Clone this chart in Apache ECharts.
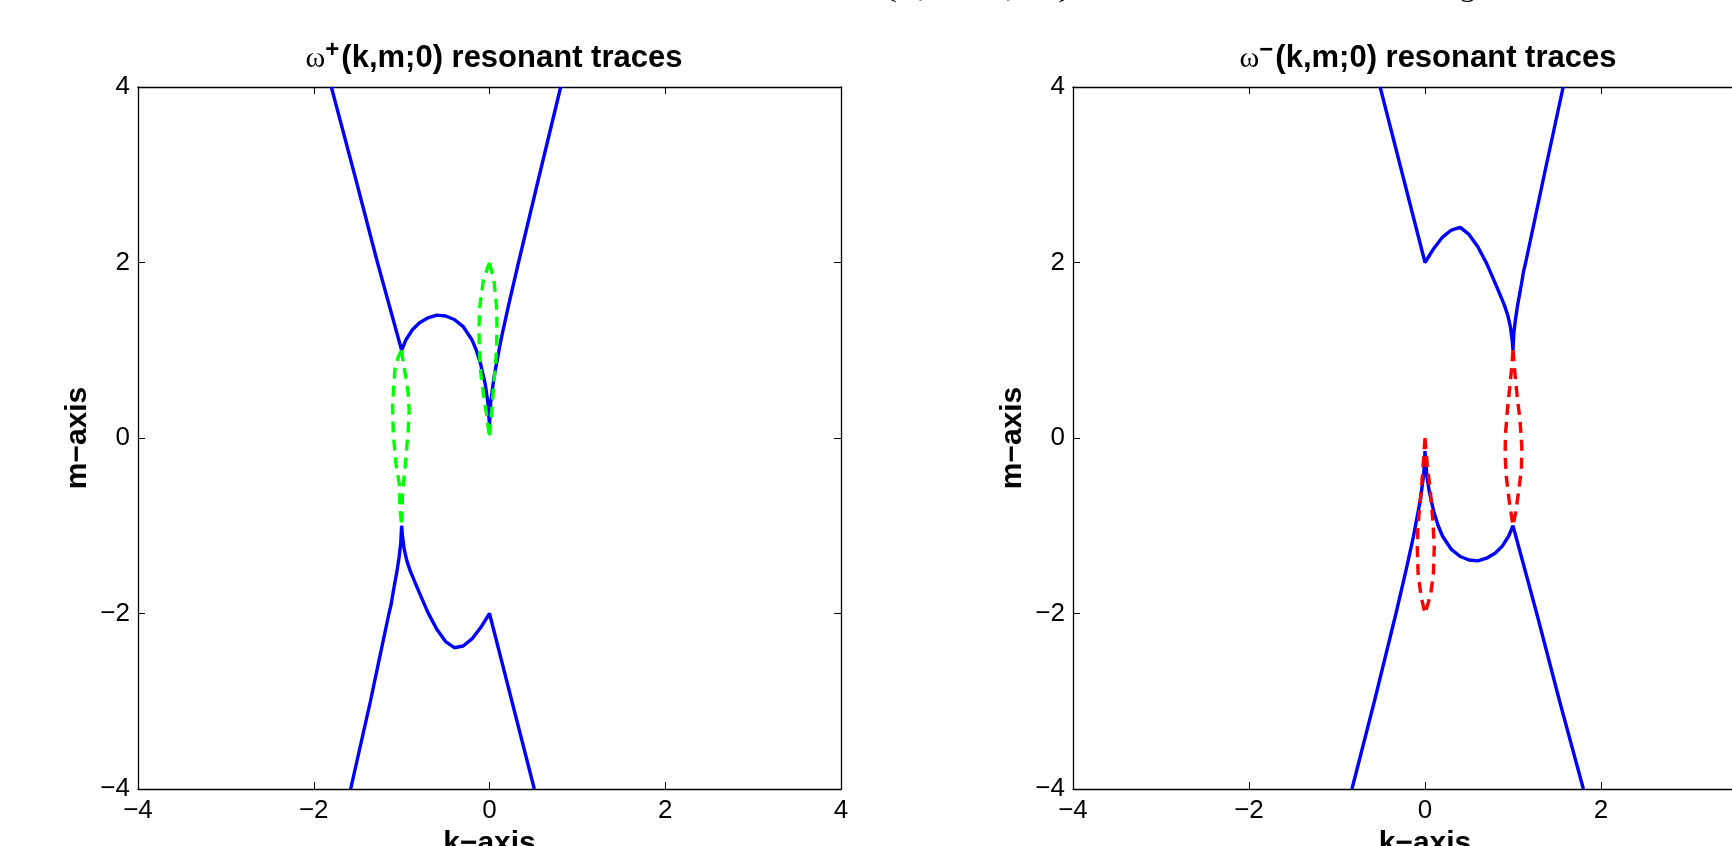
<!DOCTYPE html>
<html>
<head>
<meta charset="utf-8">
<script src="https://cdn.jsdelivr.net/npm/echarts@6/dist/echarts.min.js"></script>
<style>
html,body{margin:0;padding:0;background:#fff;}
#chart{width:1732px;height:846px;}
</style>
</head>
<body>
<div id="chart"></div>
<script>
// ---------- data ----------
const tickValues = [-4, -2, 0, 2, 4];
const panelTitles = ['(k,m;0) resonant traces', '(k,m;0) resonant traces'];
const panelSigns = ['+', '\u2212'];
const xName = 'k\u2212axis';
const yName = 'm\u2212axis';

// omega+ panel : blue traces
const plusUpperK = [-1.80, -1.535, -1.275, -1.00, -0.95, -0.88, -0.80, -0.70, -0.60, -0.50, -0.40, -0.30, -0.20, -0.15, -0.10, -0.05, -0.02, 0.00, 0.013, 0.052, 0.131, 0.214, 0.33, 0.569, 0.81];
const plusUpperM = [4.00, 3.00, 2.00, 1.00, 1.12, 1.23, 1.31, 1.37, 1.40, 1.39, 1.35, 1.27, 1.12, 1.00, 0.84, 0.62, 0.42, 0.15, 0.40, 0.70, 1.12, 1.50, 2.00, 3.00, 4.00];
const plusLowerK = [-1.58, -1.355, -1.25, -1.144, -1.12, -1.095, -1.05, -1.028, -1.01, -1.00, -0.99, -0.97, -0.94, -0.90, -0.85, -0.80, -0.70, -0.60, -0.50, -0.40, -0.30, -0.20, -0.10, 0.00, 0.255, 0.51];
const plusLowerM = [-4.00, -3.00, -2.50, -2.00, -1.90, -1.75, -1.50, -1.35, -1.20, -1.00, -1.12, -1.27, -1.40, -1.52, -1.64, -1.76, -1.99, -2.18, -2.32, -2.39, -2.37, -2.29, -2.16, -2.00, -3.00, -4.00];
// omega+ panel : green dashed loops
const plusLoopAK = [-1.00, -0.98, -0.945, -0.925, -0.914, -0.925, -0.96, -0.99, -1.00, -1.02, -1.027, -1.065, -1.095, -1.103, -1.09, -1.077, -1.04, -1.00];
const plusLoopAM = [1.00, 0.85, 0.65, 0.50, 0.30, 0.09, -0.33, -0.63, -1.00, -0.79, -0.52, -0.29, 0.05, 0.36, 0.60, 0.775, 0.92, 1.00];
const plusLoopBK = [0.00, -0.07, -0.11, -0.12, -0.115, -0.10, -0.07, -0.03, 0.00, 0.02, 0.04, 0.06, 0.08, 0.085, 0.08, 0.05, 0.00];
const plusLoopBM = [2.00, 1.80, 1.50, 1.25, 1.00, 0.75, 0.50, 0.25, 0.00, 0.25, 0.50, 0.75, 1.00, 1.25, 1.50, 1.80, 2.00];

// omega- panel : blue traces
const minusUpperK = [-0.51, -0.255, 0.00, 0.10, 0.20, 0.30, 0.40, 0.50, 0.60, 0.70, 0.80, 0.85, 0.90, 0.94, 0.97, 0.99, 1.00, 1.01, 1.028, 1.05, 1.095, 1.12, 1.144, 1.25, 1.355, 1.57];
const minusUpperM = [4.00, 3.00, 2.00, 2.16, 2.29, 2.37, 2.40, 2.32, 2.18, 1.99, 1.76, 1.64, 1.52, 1.40, 1.27, 1.12, 1.00, 1.20, 1.35, 1.50, 1.75, 1.90, 2.00, 2.50, 3.00, 4.00];
const minusLowerK = [-0.83, -0.575, -0.33, -0.214, -0.131, -0.052, -0.013, 0.00, 0.02, 0.05, 0.10, 0.15, 0.20, 0.30, 0.40, 0.50, 0.60, 0.70, 0.80, 0.88, 0.95, 1.00, 1.27, 1.53, 1.80];
const minusLowerM = [-4.00, -3.00, -2.00, -1.50, -1.12, -0.70, -0.40, -0.15, -0.42, -0.62, -0.84, -1.00, -1.12, -1.27, -1.35, -1.39, -1.40, -1.37, -1.31, -1.23, -1.12, -1.00, -2.00, -3.00, -4.00];
// omega- panel : red dashed loops
const minusLoopAK = [0.00, 0.025, 0.06, 0.09, 0.105, 0.095, 0.065, 0.00, -0.045, -0.078, -0.088, -0.08, -0.057, -0.035, -0.017, 0.00];
const minusLoopAM = [0.00, -0.30, -0.60, -0.95, -1.25, -1.55, -1.78, -2.00, -1.80, -1.55, -1.25, -1.00, -0.75, -0.50, -0.25, 0.00];
const minusLoopBK = [1.00, 0.985, 0.96, 0.935, 0.915, 0.91, 0.925, 0.955, 0.98, 1.00, 1.03, 1.065, 1.095, 1.10, 1.08, 1.05, 1.025, 1.00];
const minusLoopBM = [1.00, 0.80, 0.55, 0.30, 0.05, -0.20, -0.45, -0.70, -0.87, -1.00, -0.85, -0.60, -0.36, -0.10, 0.20, 0.45, 0.70, 1.00];

// ---------- build ----------
const zip = (ks, ms) => ks.map((k, i) => [k, ms[i]]);
const FONT = '"Liberation Sans", Arial, Helvetica, sans-serif';
const fmt = v => (v < 0 ? '\u2212' + Math.abs(v) : String(v));

const grids = [
  {left: 138, top: 87, width: 703, height: 702, outerBoundsMode: 'none', containLabel: false},
  {left: 1073, top: 87, width: 704, height: 702, outerBoundsMode: 'none', containLabel: false}
];

const axisLine = {onZero: false, lineStyle: {color: '#000', width: 1.3}};
const axisTick = {inside: true, length: 7, lineStyle: {color: '#000', width: 1}};
const xAxis = [], yAxis = [];
grids.forEach((g, gi) => {
  const base = {gridIndex: gi, type: 'value', min: tickValues[0], max: tickValues[tickValues.length - 1], interval: 2,
    splitLine: {show: false}, axisLine, axisTick};
  xAxis.push(Object.assign({}, base, {
    position: 'bottom',
    axisLabel: {formatter: fmt, fontSize: 26, color: '#000', fontFamily: FONT, margin: 9},
    name: xName, nameLocation: 'middle', nameGap: 40,
    nameTextStyle: {fontSize: 30, fontWeight: 'bold', color: '#000', fontFamily: FONT}
  }));
  xAxis.push(Object.assign({}, base, {position: 'top', axisLabel: {show: false}}));
  yAxis.push(Object.assign({}, base, {
    position: 'left',
    axisLabel: {formatter: fmt, fontSize: 26, color: '#000', fontFamily: FONT, margin: 8},
    name: yName, nameLocation: 'middle', nameGap: 45,
    nameTextStyle: {fontSize: 30, fontWeight: 'bold', color: '#000', fontFamily: FONT}
  }));
  yAxis.push(Object.assign({}, base, {position: 'right', axisLabel: {show: false}}));
});

function line(gi, data, color, dashed) {
  return {
    type: 'line', xAxisIndex: gi * 2, yAxisIndex: gi * 2, data,
    symbol: 'none', showSymbol: false, smooth: false, clip: true, z: dashed ? 4 : 3,
    lineStyle: {color, width: 3.4, type: dashed ? [11, 7] : 'solid'}, emphasis: {disabled: true}
  };
}
const BLUE = '#0000ff', GREEN = '#00ff00', RED = '#ff0000';
const series = [
  line(0, zip(plusUpperK, plusUpperM), BLUE, false),
  line(0, zip(plusLowerK, plusLowerM), BLUE, false),
  line(0, zip(plusLoopAK, plusLoopAM), GREEN, true),
  line(0, zip(plusLoopBK, plusLoopBM), GREEN, true),
  line(1, zip(minusUpperK, minusUpperM), BLUE, false),
  line(1, zip(minusLowerK, minusLowerM), BLUE, false),
  line(1, zip(minusLoopAK, minusLoopAM), RED, true),
  line(1, zip(minusLoopBK, minusLoopBM), RED, true)
];

const titleCenters = [494, 1428];
const graphic = titleCenters.map((cx, i) => ({
  type: 'text', x: cx, y: 56, silent: true,
  style: {
    text: '{w|\u03c9}{s|' + panelSigns[i] + '}{t|' + panelTitles[i] + '}',
    align: 'center', verticalAlign: 'middle',
    rich: {
      w: {fontFamily: '"Liberation Serif", "Times New Roman", serif', fontSize: 30, fill: '#000', verticalAlign: 'bottom'},
      s: {fontFamily: FONT, fontSize: 24, fontWeight: 'bold', fill: '#000', verticalAlign: 'top', padding: [0, 2, 12, 0]},
      t: {fontFamily: FONT, fontSize: 31, fontWeight: 'bold', fill: '#000', verticalAlign: 'bottom'}
    }
  }
}));
// partially visible line of page text at the very top edge
graphic.push({
  type: 'text', x: 883, y: -27, scaleX: 1.4, silent: true,
  style: {text: '(k,  \u2212m,  0)', font: '30px "Liberation Serif", serif', fill: '#000', verticalAlign: 'top'}
});
graphic.push({
  type: 'text', x: 1460, y: -27, silent: true,
  style: {text: 'g', font: '30px "Liberation Serif", serif', fill: '#000', verticalAlign: 'top'}
});

const chart = echarts.init(document.getElementById('chart'), null, {renderer: 'canvas'});
chart.setOption({
  animation: false,
  backgroundColor: '#fff',
  grid: grids,
  xAxis, yAxis, series, graphic
});
</script>
</body>
</html>
